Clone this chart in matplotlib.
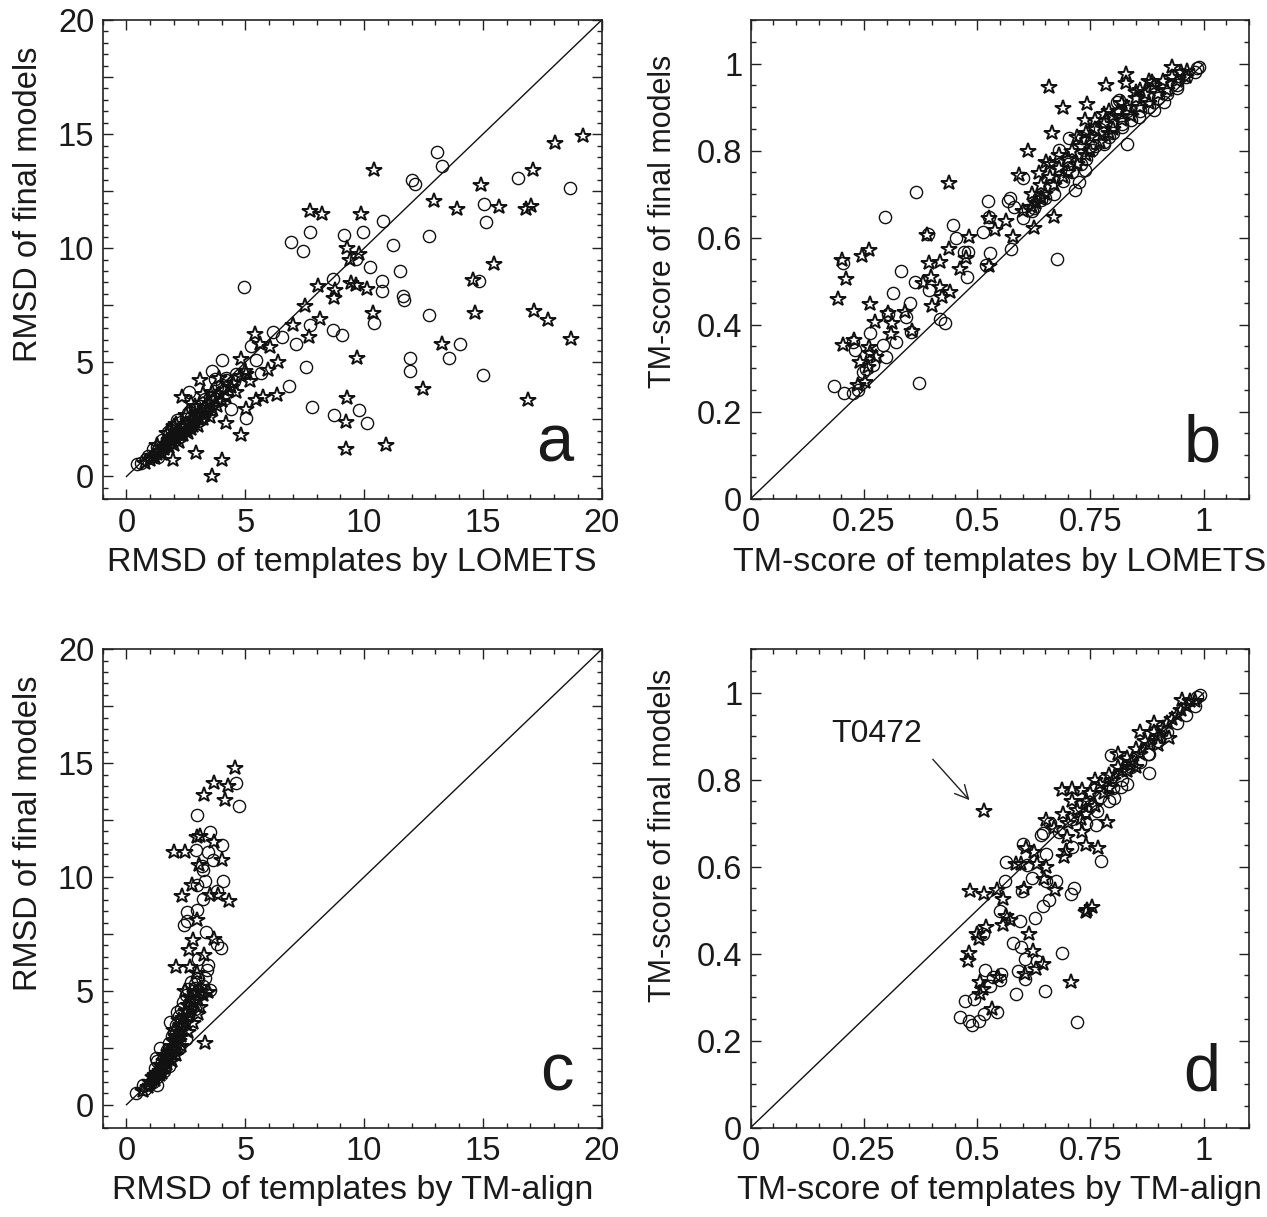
import matplotlib
matplotlib.use("Agg")
import matplotlib.pyplot as plt
from matplotlib.ticker import MultipleLocator, FuncFormatter

plt.rcParams['font.family'] = ['Liberation Sans', 'DejaVu Sans']

# ---- panel a: RMSD, LOMETS templates vs final models (x, y) ----
a_circles = [
    (13.05, 14.23), (13.29, 13.61), (12.03, 13.01), (12.14, 12.81), (16.46, 13.06),
    (18.67, 12.65), (15.06, 11.92), (15.13, 11.14), (10.78, 11.18), (7.72, 10.72),
    (6.93, 10.28), (7.45, 9.88), (9.15, 10.57), (9.96, 10.72), (12.74, 10.53),
    (11.2, 10.12), (10.25, 9.18), (9.68, 9.55), (8.7, 8.67), (11.51, 8.99),
    (10.74, 8.57), (10.75, 8.11), (11.62, 7.91), (11.68, 7.72), (14.83, 8.55),
    (4.95, 8.30), (12.74, 7.06), (10.43, 6.73), (7.72, 6.64), (8.7, 6.43),
    (9.08, 6.18), (14.04, 5.82), (13.56, 5.19), (11.93, 5.20), (11.92, 4.63),
    (15.02, 4.43), (7.56, 4.81), (6.82, 3.98), (7.12, 5.82), (6.18, 6.33),
    (6.54, 6.11), (7.82, 3.04), (8.74, 2.68), (9.77, 2.91), (10.11, 2.34),
    (5.05, 2.56), (4.42, 2.94), (4.0, 5.09), (3.59, 4.61), (5.26, 5.70),
    (5.47, 5.09), (5.66, 4.53), (4.53, 4.17), (2.64, 3.68), (2.11, 2.46),
    (1.75, 1.94), (1.33, 0.85), (0.45, 0.53), (0.84, 0.77), (4.21, 4.21),
    (3.72, 4.28),
    (0.6, 0.6), (0.9, 0.9), (1.1, 1.2), (1.3, 1.3), (1.5, 1.6), (1.7, 1.6),
    (1.9, 2.0), (2.1, 2.1), (2.3, 2.4), (2.5, 2.5), (2.7, 2.6), (2.9, 2.9),
    (3.1, 3.1), (3.3, 3.4), (3.5, 3.5), (3.8, 3.9), (4.2, 4.3), (2.6, 2.8),
    (2.2, 1.9), (3.0, 2.7), (3.4, 3.1), (1.8, 1.8), (4.0, 4.0), (4.6, 4.5),
]
a_stars = [
    (19.23, 14.93), (18.04, 14.63), (17.09, 13.42), (10.41, 13.42), (14.91, 12.78),
    (12.95, 12.08), (13.89, 11.70), (15.68, 11.81), (16.8, 11.70), (17.02, 11.84),
    (7.72, 11.61), (8.22, 11.49), (9.85, 11.52), (9.29, 9.99), (9.4, 9.50),
    (9.8, 9.74), (15.48, 9.33), (14.6, 8.63), (8.07, 8.33), (8.77, 8.19),
    (8.74, 7.84), (9.47, 8.48), (9.66, 8.38), (10.11, 8.23), (7.51, 7.46),
    (10.36, 7.16), (14.67, 7.16), (17.15, 7.25), (17.75, 6.87), (8.14, 6.92),
    (6.99, 6.65), (7.69, 6.11), (18.69, 6.04), (13.26, 5.82), (9.71, 5.20),
    (5.40, 6.26), (6.39, 5.01), (5.96, 4.65), (6.32, 3.55), (5.75, 3.48),
    (5.47, 3.33), (12.46, 3.85), (9.29, 3.45), (16.91, 3.33), (5.05, 2.97),
    (9.26, 2.37), (4.21, 2.34), (4.84, 1.83), (9.24, 1.20), (10.92, 1.36),
    (4.04, 0.70), (3.61, 0.0), (2.92, 1.02), (1.94, 0.70), (2.32, 3.48),
    (3.09, 4.21), (4.84, 5.16), (5.05, 4.50), (6.04, 5.67), (5.61, 5.82),
    (0.8, 0.6), (1.0, 0.7), (1.1, 0.9), (1.2, 0.8), (1.3, 1.0), (1.4, 1.1),
    (1.5, 1.0), (1.5, 1.3), (1.6, 1.2), (1.7, 1.4), (1.8, 1.3), (1.8, 1.6),
    (1.9, 1.5), (2.0, 1.4), (2.0, 1.8), (2.1, 1.7), (2.2, 1.5), (2.2, 2.0),
    (2.3, 1.9), (2.4, 1.8), (2.4, 2.2), (2.5, 2.0), (2.6, 2.3), (2.6, 1.9),
    (2.7, 2.1), (2.8, 2.5), (2.8, 2.2), (2.9, 2.4), (3.0, 2.6), (3.0, 2.2),
    (3.1, 2.8), (3.2, 2.5), (3.3, 3.0), (3.3, 2.7), (3.4, 2.9), (3.5, 3.2),
    (3.5, 2.6), (3.6, 3.0), (3.7, 3.4), (3.8, 3.1), (3.9, 3.6), (4.0, 3.3),
    (4.1, 3.8), (4.2, 3.5), (4.4, 3.9), (4.5, 4.1), (4.6, 3.7), (4.8, 4.4),
    (5.0, 4.6), (5.2, 4.2), (2.5, 2.7), (2.1, 2.3), (1.7, 1.9), (3.6, 3.7),
    (2.9, 3.1), (3.2, 3.6), (2.7, 3.2), (2.0, 2.2), (1.3, 1.4), (3.9, 4.3),
]

# ---- panel b: TM-score, LOMETS templates vs final models ----
b_circles = [
    (0.364, 0.705), (0.296, 0.648), (0.204, 0.541), (0.183, 0.259), (0.205, 0.244),
    (0.226, 0.242), (0.237, 0.250), (0.371, 0.265), (0.249, 0.292), (0.254, 0.299),
    (0.270, 0.307), (0.231, 0.342), (0.226, 0.361), (0.264, 0.381), (0.292, 0.353),
    (0.299, 0.326), (0.321, 0.361), (0.304, 0.424), (0.343, 0.418), (0.351, 0.449),
    (0.354, 0.384), (0.314, 0.473), (0.332, 0.524), (0.363, 0.498), (0.393, 0.479),
    (0.391, 0.609), (0.418, 0.414), (0.428, 0.403), (0.446, 0.629), (0.453, 0.600),
    (0.470, 0.568), (0.479, 0.567), (0.477, 0.510), (0.512, 0.613), (0.523, 0.684),
    (0.528, 0.564), (0.519, 0.537), (0.527, 0.648), (0.574, 0.573), (0.569, 0.685),
    (0.572, 0.690), (0.582, 0.671), (0.602, 0.644), (0.613, 0.663), (0.626, 0.667),
    (0.677, 0.551), (0.637, 0.694), (0.640, 0.686), (0.716, 0.709), (0.725, 0.728),
    (0.681, 0.801), (0.703, 0.828), (0.732, 0.828), (0.831, 0.814), (0.809, 0.912),
    (0.813, 0.916), (0.890, 0.893), (0.912, 0.912), (0.941, 0.943), (0.990, 0.991),
    (0.985, 0.989), (0.600, 0.736), (0.754, 0.801), (0.739, 0.755), (0.780, 0.816),
    (0.820, 0.855), (0.857, 0.877),
    (0.62, 0.66), (0.65, 0.69), (0.67, 0.70), (0.69, 0.73), (0.71, 0.75), (0.73, 0.77),
    (0.74, 0.78), (0.76, 0.81), (0.78, 0.82), (0.80, 0.84), (0.82, 0.86), (0.84, 0.87),
    (0.86, 0.89), (0.88, 0.90), (0.90, 0.92), (0.92, 0.93), (0.94, 0.95), (0.96, 0.97),
    (0.98, 0.98), (0.70, 0.77), (0.77, 0.85), (0.83, 0.89), (0.66, 0.72), (0.79, 0.83),
]
b_stars = [
    (0.659, 0.945), (0.784, 0.950), (0.828, 0.977), (0.828, 0.956), (0.743, 0.906),
    (0.690, 0.898), (0.739, 0.870), (0.666, 0.841), (0.613, 0.799), (0.437, 0.726),
    (0.929, 0.991), (0.963, 0.983), (0.850, 0.935), (0.886, 0.958), (0.780, 0.885),
    (0.652, 0.774), (0.670, 0.648), (0.626, 0.621), (0.593, 0.743), (0.637, 0.749),
    (0.578, 0.602), (0.540, 0.617), (0.563, 0.639), (0.525, 0.646), (0.483, 0.602),
    (0.475, 0.552), (0.437, 0.573), (0.417, 0.544), (0.389, 0.606), (0.393, 0.541),
    (0.398, 0.510), (0.380, 0.495), (0.417, 0.487), (0.423, 0.464), (0.441, 0.476),
    (0.462, 0.527), (0.400, 0.443), (0.527, 0.535), (0.202, 0.548), (0.246, 0.558),
    (0.261, 0.571), (0.211, 0.504), (0.193, 0.460), (0.263, 0.447), (0.274, 0.405),
    (0.311, 0.403), (0.310, 0.378), (0.340, 0.430), (0.356, 0.386), (0.303, 0.426),
    (0.204, 0.353), (0.229, 0.364), (0.261, 0.349), (0.264, 0.334), (0.241, 0.315),
    (0.259, 0.303), (0.276, 0.326), (0.252, 0.269), (0.237, 0.261),
    (0.60, 0.66), (0.62, 0.70), (0.63, 0.68), (0.64, 0.72), (0.65, 0.70), (0.66, 0.74),
    (0.67, 0.72), (0.68, 0.76), (0.69, 0.74), (0.70, 0.78), (0.70, 0.75), (0.71, 0.80),
    (0.72, 0.77), (0.73, 0.81), (0.74, 0.79), (0.75, 0.83), (0.75, 0.80), (0.76, 0.85),
    (0.77, 0.82), (0.78, 0.86), (0.79, 0.84), (0.80, 0.88), (0.80, 0.85), (0.81, 0.89),
    (0.82, 0.87), (0.83, 0.90), (0.84, 0.88), (0.85, 0.92), (0.86, 0.90), (0.87, 0.93),
    (0.88, 0.91), (0.89, 0.95), (0.90, 0.93), (0.91, 0.96), (0.92, 0.94), (0.93, 0.97),
    (0.94, 0.96), (0.95, 0.98), (0.96, 0.97), (0.68, 0.79), (0.72, 0.83), (0.76, 0.87),
    (0.79, 0.89), (0.66, 0.77), (0.64, 0.69), (0.74, 0.84), (0.82, 0.91), (0.86, 0.94),
    (0.88, 0.96), (0.62, 0.67),
]

# ---- panel c: RMSD, TM-align templates vs final models ----
c_circles = [
    (4.63, 14.11), (4.74, 13.14), (2.98, 12.74), (3.51, 11.98), (4.04, 11.39),
    (2.91, 11.17), (3.44, 11.10), (3.65, 10.76), (3.20, 10.32), (3.16, 10.50),
    (4.07, 9.81), (3.30, 9.81), (2.98, 9.66), (3.79, 9.37), (3.20, 9.03),
    (2.55, 8.45), (2.98, 8.53), (2.41, 7.90), (2.55, 8.05), (3.33, 7.57),
    (3.82, 7.07), (3.97, 6.88), (3.02, 6.39), (3.44, 6.14), (3.37, 5.92),
    (2.95, 5.56), (3.30, 5.56), (3.51, 5.04), (2.88, 5.12), (2.64, 4.46),
    (2.11, 4.09), (1.82, 3.65), (1.40, 2.48), (1.26, 2.04), (1.29, 0.87),
    (0.42, 0.50), (0.70, 0.87),
    (0.8, 0.7), (1.0, 0.9), (1.1, 1.0), (1.3, 1.2), (1.4, 1.6), (1.5, 1.9),
    (1.6, 2.1), (1.7, 2.4), (1.8, 2.7), (1.9, 3.0), (2.0, 3.2), (2.1, 3.5),
    (2.2, 3.9), (2.3, 4.2), (2.4, 4.5), (2.5, 4.8), (2.6, 5.1), (2.7, 5.4),
    (2.8, 5.0), (2.9, 5.3), (3.0, 5.5), (3.2, 5.2), (1.2, 1.6), (1.6, 1.5),
    (2.2, 2.5), (2.5, 2.9), (1.8, 1.7), (2.9, 4.2), (1.3, 1.9), (3.3, 5.0),
]
c_stars = [
    (4.56, 14.79), (3.69, 14.13), (4.28, 13.99), (3.26, 13.59), (4.14, 13.37),
    (2.98, 11.74), (3.09, 11.79), (3.69, 11.54), (1.99, 11.09), (2.46, 11.10),
    (4.04, 10.73), (3.06, 10.54), (2.74, 9.63), (2.32, 9.15), (3.51, 9.22),
    (3.86, 9.22), (4.32, 8.93), (2.95, 8.12), (2.81, 7.24), (2.64, 6.80),
    (3.69, 7.29), (3.26, 6.58), (2.08, 6.07), (2.67, 6.07), (2.46, 5.01),
    (3.30, 2.70), (3.44, 4.97), (2.95, 5.78),
    (0.7, 0.6), (0.9, 0.8), (1.0, 1.0), (1.1, 1.2), (1.2, 1.1), (1.3, 1.4),
    (1.4, 1.5), (1.4, 1.3), (1.5, 1.7), (1.6, 1.6), (1.6, 1.9), (1.7, 1.8),
    (1.7, 2.1), (1.8, 2.0), (1.8, 2.3), (1.9, 2.2), (1.9, 2.6), (2.0, 2.4),
    (2.0, 2.8), (2.1, 2.6), (2.1, 3.0), (2.2, 2.8), (2.2, 3.2), (2.3, 3.0),
    (2.3, 3.5), (2.4, 3.3), (2.4, 3.8), (2.5, 3.6), (2.5, 4.1), (2.6, 3.9),
    (2.6, 4.4), (2.7, 4.2), (2.7, 4.7), (2.8, 4.5), (2.9, 4.9), (3.0, 4.6),
    (3.1, 5.0), (1.5, 1.4), (1.2, 1.3), (2.3, 2.6), (2.6, 3.2), (2.8, 3.6),
    (3.0, 4.0), (3.1, 4.3), (1.9, 1.9), (2.1, 2.2), (1.6, 2.2), (2.2, 3.7),
    (2.0, 3.3), (3.2, 4.8),
]

# ---- panel d: TM-score, TM-align templates vs final models ----
d_circles = [
    (0.991, 0.995), (0.985, 0.991), (0.879, 0.816), (0.877, 0.860), (0.817, 0.783),
    (0.802, 0.757), (0.795, 0.856), (0.762, 0.695), (0.773, 0.614), (0.765, 0.729),
    (0.710, 0.645), (0.714, 0.551), (0.707, 0.538), (0.688, 0.402), (0.721, 0.243),
    (0.646, 0.677), (0.652, 0.630), (0.640, 0.672), (0.600, 0.651), (0.611, 0.603),
    (0.563, 0.611), (0.561, 0.568), (0.622, 0.574), (0.652, 0.568), (0.673, 0.567),
    (0.659, 0.524), (0.646, 0.509), (0.599, 0.544), (0.628, 0.482), (0.595, 0.476),
    (0.551, 0.499), (0.578, 0.424), (0.596, 0.416), (0.606, 0.388), (0.591, 0.361),
    (0.606, 0.342), (0.632, 0.382), (0.650, 0.313), (0.585, 0.307), (0.552, 0.353),
    (0.551, 0.339), (0.517, 0.363), (0.534, 0.347), (0.528, 0.326), (0.494, 0.296),
    (0.474, 0.292), (0.514, 0.261), (0.543, 0.265), (0.462, 0.255), (0.481, 0.244),
    (0.489, 0.236), (0.503, 0.246), (0.512, 0.445),
    (0.71, 0.71), (0.73, 0.74), (0.75, 0.74), (0.77, 0.76), (0.78, 0.80), (0.80, 0.78),
    (0.82, 0.80), (0.84, 0.83), (0.86, 0.84), (0.88, 0.86), (0.90, 0.89), (0.92, 0.91),
    (0.94, 0.93), (0.96, 0.95), (0.98, 0.97), (0.74, 0.70), (0.79, 0.75), (0.68, 0.68),
    (0.66, 0.70), (0.83, 0.79),
]
d_stars = [
    (0.516, 0.728), (0.485, 0.543), (0.516, 0.538), (0.543, 0.547), (0.558, 0.526),
    (0.585, 0.605), (0.596, 0.605), (0.607, 0.642), (0.626, 0.634), (0.632, 0.605),
    (0.652, 0.599), (0.648, 0.572), (0.672, 0.547), (0.604, 0.549), (0.563, 0.486),
    (0.572, 0.478), (0.558, 0.465), (0.519, 0.461), (0.499, 0.445), (0.505, 0.434),
    (0.483, 0.401), (0.479, 0.382), (0.615, 0.444), (0.624, 0.405), (0.646, 0.377),
    (0.630, 0.365), (0.606, 0.353), (0.545, 0.346), (0.506, 0.334), (0.512, 0.319),
    (0.506, 0.307), (0.532, 0.273), (0.708, 0.334), (0.740, 0.495), (0.753, 0.507),
    (0.743, 0.501), (0.741, 0.649), (0.767, 0.643), (0.692, 0.622), (0.696, 0.637),
    (0.699, 0.668), (0.787, 0.703), (0.731, 0.680), (0.687, 0.776), (0.710, 0.778),
    (0.732, 0.776), (0.651, 0.707), (0.923, 0.895), (0.952, 0.983),
    (0.70, 0.70), (0.72, 0.73), (0.73, 0.71), (0.74, 0.75), (0.75, 0.77), (0.76, 0.74),
    (0.77, 0.79), (0.78, 0.77), (0.79, 0.81), (0.80, 0.80), (0.81, 0.83), (0.82, 0.82),
    (0.83, 0.85), (0.84, 0.84), (0.85, 0.87), (0.86, 0.86), (0.87, 0.89), (0.88, 0.88),
    (0.89, 0.91), (0.90, 0.90), (0.91, 0.92), (0.92, 0.93), (0.93, 0.94), (0.94, 0.95),
    (0.95, 0.96), (0.96, 0.97), (0.97, 0.98), (0.98, 0.98), (0.81, 0.86), (0.86, 0.91),
    (0.89, 0.93), (0.83, 0.82), (0.79, 0.78), (0.76, 0.80), (0.74, 0.72), (0.71, 0.75),
    (0.69, 0.72), (0.67, 0.69), (0.85, 0.83), (0.90, 0.88),
]

TXT = '#1a1a1a'
FS_X = 24.5   # x-axis labels
FS_T = 23.5   # tick labels

fig = plt.figure(figsize=(12.67, 12.17), dpi=100)
W, H = 1267, 1217


def make_ax(left, top, right, bottom):
    return fig.add_axes([left / W, 1 - bottom / H, (right - left) / W, (bottom - top) / H])


ax_a = make_ax(102.7, 20, 601.7, 499.3)
ax_b = make_ax(750.7, 20, 1249, 498.7)
ax_c = make_ax(102.7, 649.3, 601.7, 1127.5)
ax_d = make_ax(750.7, 649.3, 1249, 1127.5)


def style(ax):
    for s in ax.spines.values():
        s.set_linewidth(1.2)
        s.set_color('#222222')
    ax.tick_params(which='both', direction='in', top=True, right=True,
                   labelsize=FS_T, colors='#222222', labelcolor=TXT, width=1.0)
    ax.tick_params(which='major', length=7, pad=6)
    ax.tick_params(which='minor', length=3.5)


def draw(ax, circles, stars):
    cx, cy = zip(*circles)
    sx, sy = zip(*stars)
    ax.plot(cx, cy, 'o', mfc='none', mec='#111111', ms=8.8, mew=1.0, zorder=3)
    ax.plot(sx, sy, '*', mfc='none', mec='#111111', ms=11.5, mew=1.4, zorder=4)


rmsd_fmt = FuncFormatter(lambda v, _: f"{v:g}" if abs(v / 5 - round(v / 5)) < 1e-6 else "")
tm_fmt = FuncFormatter(lambda v, _: f"{round(v, 2):g}")

for ax, circ, star, xl, letter in [(ax_a, a_circles, a_stars, 'RMSD of templates by LOMETS', 'a'),
                                    (ax_c, c_circles, c_stars, 'RMSD of templates by TM-align', 'c')]:
    style(ax)
    ax.plot([0, 20], [0, 20], color='#111111', lw=1.0, zorder=2)
    draw(ax, circ, star)
    ax.set_xlim(-1, 20)
    ax.set_ylim(-1, 20)
    ax.xaxis.set_major_locator(MultipleLocator(5))
    ax.xaxis.set_minor_locator(MultipleLocator(1))
    ax.yaxis.set_major_locator(MultipleLocator(2.5))
    ax.yaxis.set_minor_locator(MultipleLocator(0.5))
    ax.yaxis.set_major_formatter(rmsd_fmt)
    ax.set_xlabel(xl, fontsize=FS_X, color=TXT)
    ax.set_ylabel('RMSD of final models', fontsize=23.5, color=TXT)
    ax.xaxis.set_label_coords(0.5, -0.10)
    ax.yaxis.set_label_coords(-0.118, 0.615)
    ax.text(0.943, 0.078, letter, transform=ax.transAxes, ha='right', va='baseline',
            fontsize=48, color=TXT)

for ax, circ, star, xl, letter, ly in [(ax_b, b_circles, b_stars, 'TM-score of templates by LOMETS', 'b', 0.58),
                                        (ax_d, d_circles, d_stars, 'TM-score of templates by TM-align', 'd', 0.61)]:
    style(ax)
    ax.plot([0, 1], [0, 1], color='#111111', lw=1.0, zorder=2)
    draw(ax, circ, star)
    ax.set_xlim(0, 1.1)
    ax.set_ylim(0, 1.1)
    ax.xaxis.set_major_locator(MultipleLocator(0.25))
    ax.xaxis.set_minor_locator(MultipleLocator(0.05))
    ax.yaxis.set_major_locator(MultipleLocator(0.2))
    ax.yaxis.set_minor_locator(MultipleLocator(0.05))
    ax.xaxis.set_major_formatter(tm_fmt)
    ax.yaxis.set_major_formatter(tm_fmt)
    ax.set_xlabel(xl, fontsize=FS_X, color=TXT)
    ax.set_ylabel('TM-score of final models', fontsize=22, color=TXT)
    ax.xaxis.set_label_coords(0.5, -0.10)
    ax.yaxis.set_label_coords(-0.145, ly)
    ax.text(0.943, 0.078, letter, transform=ax.transAxes, ha='right', va='baseline',
            fontsize=48, color=TXT)

# outlier label in panel d
ax_d.annotate('', xy=(0.483, 0.753), xytext=(0.402, 0.847),
              arrowprops=dict(arrowstyle='->', color='#222222', lw=1.0,
                              mutation_scale=24, shrinkA=0, shrinkB=0))
ax_d.text(0.278, 0.905, 'T0472', ha='center', va='center', fontsize=23, color=TXT)

fig.savefig('out.png', dpi=100)
